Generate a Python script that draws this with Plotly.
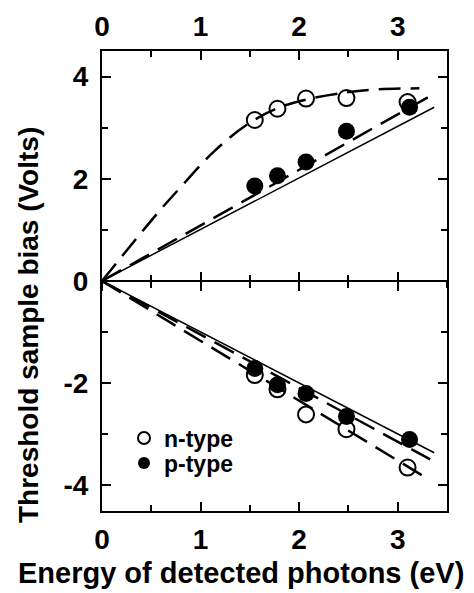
import plotly.graph_objects as go

# ---- data ----
energy_n = [1.55, 1.78, 2.07, 2.48, 3.10]
energy_p = [1.55, 1.78, 2.07, 2.48, 3.12]
n_pos = [3.15, 3.37, 3.57, 3.58, 3.50]
p_pos = [1.86, 2.06, 2.33, 2.93, 3.40]
n_neg = [-1.84, -2.12, -2.61, -2.90, -3.65]
p_neg = [-1.71, -2.03, -2.20, -2.65, -3.10]

# fitted curves
n_pos_fit_x = [0.0, 0.56, 0.80, 1.14, 1.48, 1.78, 2.07, 2.48, 2.80, 3.22]
n_pos_fit_y = [0.0, 1.32, 1.84, 2.54, 3.07, 3.38, 3.55, 3.69, 3.75, 3.77]
p_pos_fit_x = [0.0, 3.33]
p_pos_fit_y = [0.0, 3.62]
ref_pos_x = [0.0, 3.37]
ref_pos_y = [0.0, 3.40]
n_neg_fit_x = [0.0, 3.28]
n_neg_fit_y = [0.0, -3.84]
p_neg_fit_x = [0.0, 3.33]
p_neg_fit_y = [0.0, -3.49]
ref_neg_x = [0.0, 3.37]
ref_neg_y = [0.0, -3.36]

x_ticks = [0, 1, 2, 3]
y_ticks = [-4, -2, 0, 2, 4]
y_ticktext = ["-4", "-2", "0", "2", "4"]

FONT = "Liberation Sans, Arial, Helvetica, sans-serif"
tickfont = dict(family=FONT, size=28, color="black", weight="bold")

L, R, T, B = 102, 27, 51, 82
W, H = 474, 593
PW, PH = W - L - R, H - T - B

def px_x(p):
    return (p - L) / PW

def px_y(p):
    return (H - B - p) / PH

fig = go.Figure()

dash_style = dict(color="black", width=2.5, dash="22px,10px")
solid_style = dict(color="black", width=1.5)

fig.add_trace(go.Scatter(x=n_pos_fit_x, y=n_pos_fit_y, mode="lines",
                         line=dict(**dash_style, shape="spline"), showlegend=False))
fig.add_trace(go.Scatter(x=p_pos_fit_x, y=p_pos_fit_y, mode="lines",
                         line=dash_style, showlegend=False))
fig.add_trace(go.Scatter(x=ref_pos_x, y=ref_pos_y, mode="lines",
                         line=solid_style, showlegend=False))
fig.add_trace(go.Scatter(x=n_neg_fit_x, y=n_neg_fit_y, mode="lines",
                         line=dash_style, showlegend=False))
fig.add_trace(go.Scatter(x=p_neg_fit_x, y=p_neg_fit_y, mode="lines",
                         line=dash_style, showlegend=False))
fig.add_trace(go.Scatter(x=ref_neg_x, y=ref_neg_y, mode="lines",
                         line=solid_style, showlegend=False))

fig.add_trace(go.Scatter(x=energy_p + energy_p, y=p_pos + p_neg, mode="markers",
                         name="p-type", legend="legend2",
                         marker=dict(symbol="circle", size=17, color="black",
                                     line=dict(width=0))))
fig.add_trace(go.Scatter(x=energy_n + energy_n, y=n_pos + n_neg, mode="markers",
                         name="n-type", legend="legend",
                         marker=dict(symbol="circle-open", size=16, color="black",
                                     line=dict(width=2, color="black"))))
# dummy traces so extra axes render
for ax in ["x2", "x3", "x4"]:
    fig.add_trace(go.Scatter(x=[0], y=[0], xaxis=ax, mode="markers",
                             marker=dict(opacity=0), showlegend=False,
                             hoverinfo="skip"))

common_x = dict(range=[0, 3.5], tickvals=x_ticks, ticks="inside", ticklen=9,
                tickwidth=2, tickcolor="black", showgrid=False, zeroline=False,
                automargin=False,
                minor=dict(dtick=0.5, tick0=0, ticks="inside", ticklen=6,
                           tickwidth=2, tickcolor="black"))

legend_font = dict(family=FONT, size=23, color="black", weight="bold")

fig.update_layout(
    width=W, height=H,
    margin=dict(l=L, r=R, t=T, b=B, autoexpand=False),
    paper_bgcolor="white", plot_bgcolor="white",
    xaxis=dict(**common_x, showline=True, linewidth=2, linecolor="black",
               tickfont=tickfont, ticklabelstandoff=2),
    xaxis2=dict(**common_x, overlaying="x", side="top", anchor="y",
                showline=True, linewidth=2, linecolor="black",
                tickfont=tickfont, ticklabelstandoff=2),
    xaxis3=dict(range=[0, 3.5], tickvals=x_ticks, overlaying="x", anchor="free",
                position=0.5, side="bottom", ticks="inside", ticklen=9, tickwidth=2,
                tickcolor="black", showticklabels=False, showline=False,
                showgrid=False, zeroline=False, automargin=False,
                minor=dict(dtick=0.5, tick0=0, ticks="inside", ticklen=6,
                           tickwidth=2, tickcolor="black")),
    xaxis4=dict(range=[0, 3.5], tickvals=x_ticks, overlaying="x", anchor="free",
                position=0.5, side="bottom", ticks="outside", ticklen=9, tickwidth=2,
                tickcolor="black", showticklabels=False, showline=False,
                showgrid=False, zeroline=False, automargin=False,
                minor=dict(dtick=0.5, tick0=0, ticks="outside", ticklen=6,
                           tickwidth=2, tickcolor="black")),
    yaxis=dict(range=[-4.5, 4.5], tickvals=y_ticks, ticktext=y_ticktext,
               ticks="inside", ticklen=9, tickwidth=2, tickcolor="black",
               showline=True, linewidth=2, linecolor="black", mirror="ticks",
               showgrid=False, zeroline=True, zerolinewidth=2, zerolinecolor="black",
               tickfont=tickfont, ticklabelstandoff=6, automargin=False,
               minor=dict(dtick=1, tick0=1, ticks="inside", ticklen=6,
                          tickwidth=2, tickcolor="black")),
    legend=dict(x=px_x(124), y=px_y(438), xanchor="left", yanchor="middle",
                bgcolor="rgba(0,0,0,0)", font=legend_font, itemsizing="constant",
                itemwidth=30, borderwidth=0),
    legend2=dict(x=px_x(124), y=px_y(463), xanchor="left", yanchor="middle",
                 bgcolor="rgba(0,0,0,0)", font=legend_font, itemsizing="constant",
                 itemwidth=30, borderwidth=0),
    annotations=[
        dict(text="Energy of detected photons (eV)", xref="paper", yref="paper",
             x=px_x(241), y=px_y(573), xanchor="center",
             yanchor="middle", showarrow=False,
             font=dict(family=FONT, size=29, color="black", weight="bold")),
        dict(text="Threshold sample bias (Volts)", xref="paper", yref="paper",
             x=px_x(28), y=px_y(325), xanchor="center",
             yanchor="middle", showarrow=False, textangle=-90,
             font=dict(family=FONT, size=28, color="black", weight="bold")),
    ],
)

fig.write_html("out.html",
               config={"displayModeBar": False},
               post_script="document.body.style.margin='0px';"
                           "document.body.style.overflow='hidden';")
